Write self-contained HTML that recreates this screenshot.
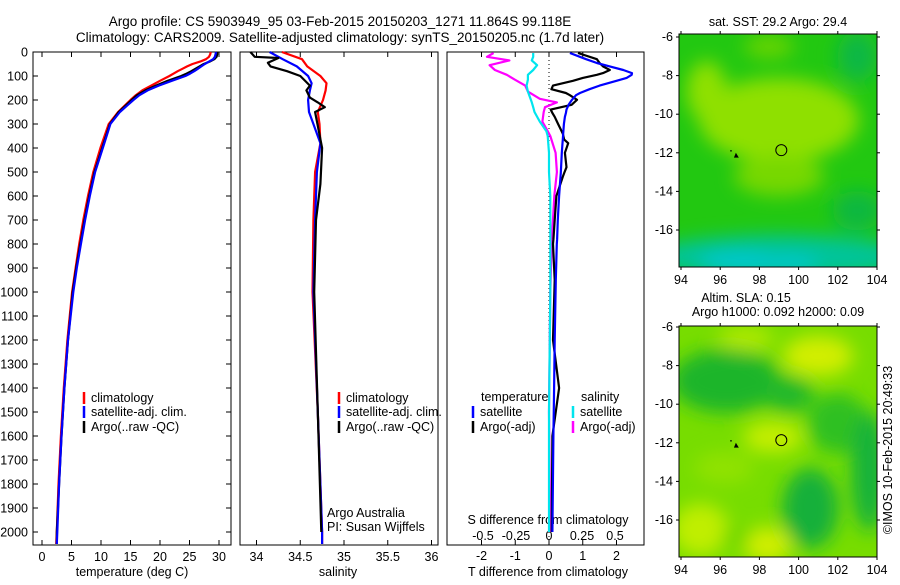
<!DOCTYPE html>
<html><head><meta charset="utf-8"><style>
body{margin:0;background:#fff;}
svg text{font-family:"Liberation Sans",sans-serif;fill:#000;}
</style></head><body>
<svg id="c" width="900" height="580" viewBox="0 0 900 580" xmlns="http://www.w3.org/2000/svg">
<defs>
<filter id="bl" filterUnits="userSpaceOnUse" x="600" y="0" width="300" height="580"><feGaussianBlur stdDeviation="9"/></filter>
<filter id="bl2" filterUnits="userSpaceOnUse" x="600" y="0" width="300" height="580"><feGaussianBlur stdDeviation="9"/></filter>
<clipPath id="m1"><rect x="679" y="34" width="198" height="233"/></clipPath>
<clipPath id="m2"><rect x="679" y="326" width="198" height="231"/></clipPath>
</defs>
<text x="340" y="26" text-anchor="middle" font-size="13.5">Argo profile: CS 5903949_95 03-Feb-2015 20150203_1271 11.864S 99.118E</text>
<text x="340" y="42" text-anchor="middle" font-size="13.5">Climatology: CARS2009. Satellite-adjusted climatology: synTS_20150205.nc (1.7d later)</text>
<g id="g"></g>
</svg>
<script>
// ---- data ----
const depthT=[0,10,20,30,40,50,60,70,80,90,100,120,140,160,180,200,250,300,400,500,600,700,800,900,1000,1200,1400,1600,1800,2000,2050];
const tempClim=[28.6,28.5,28.3,27.8,26.8,25.5,24.6,23.8,23.0,22.3,21.6,20.0,18.5,17.0,15.9,15.0,12.9,11.3,9.9,8.7,7.8,7.0,6.3,5.7,5.1,4.3,3.7,3.2,2.8,2.5,2.4];
const tempSat=[29.5,29.4,29.3,29.0,28.3,27.6,27.0,26.4,25.8,25.1,24.3,22.0,19.8,17.9,16.5,15.5,13.2,11.6,10.3,9.0,8.1,7.3,6.6,5.9,5.3,4.4,3.8,3.3,2.9,2.6,2.5];
const tempArgo=[29.7,29.7,29.6,29.2,28.4,27.4,26.7,26.0,25.3,24.5,23.6,21.3,19.3,17.5,16.1,15.2,13.0,11.5,10.2,8.9,8.0,7.2,6.5,5.8,5.2,4.4,3.8,3.3,2.9,2.5,2.5];
const depthS=[0,30,60,100,130,160,200,250,300,380,500,700,1000,1500,2000,2050];
const salClim=[34.29,34.52,34.58,34.73,34.80,34.79,34.76,34.70,34.72,34.73,34.67,34.65,34.64,34.70,34.75,34.75];
const salSat=[34.15,34.30,34.46,34.59,34.63,34.61,34.59,34.60,34.65,34.73,34.69,34.67,34.65,34.70,34.75,34.75];
const depthSA=[0,20,25,45,60,80,100,140,160,190,210,230,250,400,550,700,1000,1500,2000];
const salArgo=[33.93,33.98,34.25,34.13,34.16,34.35,34.50,34.61,34.57,34.61,34.70,34.78,34.67,34.75,34.73,34.68,34.66,34.70,34.74];
const depthD=[4,30,46,60,75,88,95,108,120,140,155,171,180,199,220,240,254,270,300,340,365,380,420,480,504,520,600,700,782,800,950,1200,1400,1600,2000];
const dTSat=[0.62,1.1,1.42,1.8,2.2,2.46,2.45,2.3,2.0,1.5,1.2,0.92,0.8,0.68,0.58,0.52,0.5,0.47,0.44,0.42,0.41,0.40,0.38,0.36,0.35,0.34,0.3,0.26,0.24,0.23,0.2,0.17,0.15,0.13,0.1];
const dTArgo=[0.86,1.42,1.5,1.6,1.8,1.6,1.42,1.0,0.71,0.12,0.07,0.5,0.62,0.83,0.67,0.05,0.1,0.17,0.27,0.41,0.45,0.57,0.47,0.52,0.45,0.41,0.22,0.17,0.13,0.12,0.17,0.12,0.3,0.1,0.08];
const depthSD=[4,20,35,55,75,95,115,140,165,195,210,230,250,290,330,350,420,500,600,800,1000,1500,2000];
const dSSat=[-0.12,-0.12,-0.13,-0.09,-0.12,-0.16,-0.16,-0.17,-0.16,-0.14,-0.13,-0.12,-0.11,-0.07,-0.02,-0.01,0,0,0.01,0.01,0.01,0.0,0.0];
const dSArgo=[-0.42,-0.47,-0.30,-0.45,-0.41,-0.32,-0.26,-0.18,-0.16,-0.07,0.06,-0.03,-0.04,-0.05,-0.01,0.01,0.05,0.06,0.04,0.02,0.01,0.0,0.01];
const depthTicks=[0,100,200,300,400,500,600,700,800,900,1000,1100,1200,1300,1400,1500,1600,1700,1800,1900,2000];
const tempTicks=[0,5,10,15,20,25,30];
const salTicks=[34,34.5,35,35.5,36];
const dTTicks=[-2,-1,0,1,2];
const dSTicks=[-0.5,-0.25,0,0.25,0.5];
const lonTicks=[94,96,98,100,102,104];
const latTicks=[-6,-8,-10,-12,-14,-16];
const profLon=99.118, profLat=-11.864;

// ---- scales ----
const Y0=52,YB=545;
const yD=d=>Y0+d*0.24;
const xT=t=>42+t*5.9;
const xS=s=>256.5+(s-34)*87.5;
const xDT=v=>549+v*33.75;
const xDS=v=>549+v*132;
const mx=l=>681+(l-94)*19.6;
const my1=a=>37+(-6-a)*19.3;
const my2=a=>327+(-6-a)*19.3;

const NS='http://www.w3.org/2000/svg';
const G=document.getElementById('g');
function mk(tag,at,txt,par){const e=document.createElementNS(NS,tag);for(const k in at)e.setAttribute(k,at[k]);if(txt!=null)e.textContent=txt;(par||G).appendChild(e);return e;}

// ---- maps (background fields) ----
function map1(){
  const g=mk('g',{'clip-path':'url(#m1)'});
  
  
  mk('rect',{x:679,y:34,width:198,height:233,fill:'#22c811'},null,g);
  const f=mk('g',{filter:'url(#bl)'},null,g);
  mk('ellipse',{cx:mx(99),cy:my1(-10.3),rx:80,ry:42,fill:'#8fe000'},null,f);
  mk('ellipse',{cx:mx(95.3),cy:my1(-8.8),rx:20,ry:30,fill:'#8fe000'},null,f);
  mk('ellipse',{cx:mx(99),cy:my1(-13.2),rx:45,ry:20,fill:'#77d800'},null,f);
  mk('ellipse',{cx:mx(98.5),cy:my1(-6.5),rx:25,ry:12,fill:'#66d400'},null,f);
  mk('ellipse',{cx:mx(99),cy:my1(-17.4),rx:130,ry:22,fill:'#00c49a'},null,f);
  mk('ellipse',{cx:mx(97),cy:my1(-17.7),rx:40,ry:10,fill:'#00c8d0'},null,f);
  mk('ellipse',{cx:mx(99.5),cy:my1(-17.8),rx:30,ry:8,fill:'#00c8d0'},null,f);
  mk('ellipse',{cx:mx(103),cy:my1(-7),rx:20,ry:25,fill:'#11b844'},null,f);
  mk('ellipse',{cx:mx(103),cy:my1(-15),rx:25,ry:20,fill:'#11b840'},null,f);
}
function map2(){
  const g=mk('g',{'clip-path':'url(#m2)'});
  
  
  mk('rect',{x:679,y:326,width:198,height:231,fill:'#77dd00'},null,g);
  const f=mk('g',{filter:'url(#bl2)'},null,g);
  mk('ellipse',{cx:mx(96.3),cy:my2(-8.8),rx:55,ry:32,fill:'#1db52a'},null,f);
  mk('ellipse',{cx:mx(99.5),cy:my2(-9.5),rx:25,ry:18,fill:'#22b82a'},null,f);
  mk('ellipse',{cx:mx(102),cy:my2(-11),rx:30,ry:30,fill:'#2ec024'},null,f);
  mk('ellipse',{cx:mx(100.6),cy:my2(-15.4),rx:28,ry:40,fill:'#14b03a'},null,f);
  mk('ellipse',{cx:mx(103.6),cy:my2(-13.5),rx:18,ry:60,fill:'#18b23a'},null,f);
  mk('ellipse',{cx:mx(98.7),cy:my2(-11.7),rx:30,ry:16,fill:'#c4ee00'},null,f);
  mk('ellipse',{cx:mx(101),cy:my2(-7.5),rx:35,ry:20,fill:'#d2ee00'},null,f);
  mk('ellipse',{cx:mx(97.3),cy:my2(-6.6),rx:28,ry:12,fill:'#b0ea00'},null,f);
  mk('ellipse',{cx:mx(95),cy:my2(-16.5),rx:28,ry:26,fill:'#c0ee00'},null,f);
  mk('ellipse',{cx:mx(98.4),cy:my2(-17.3),rx:24,ry:18,fill:'#d0ee00'},null,f);
  mk('ellipse',{cx:mx(96.2),cy:my2(-13.3),rx:30,ry:16,fill:'#90e200'},null,f);
  mk('ellipse',{cx:mx(96.8),cy:my2(-16.9),rx:14,ry:8,fill:'#5ed400'},null,f);
}
map1();map2();
function mapAxes(top,h,myf,name){
  const r=mk('rect',{x:679,y:top,width:198,height:h,fill:'none',stroke:'#000','stroke-width':1});
  
  
  lonTicks.forEach(l=>{
    mk('line',{x1:mx(l),x2:mx(l),y1:top,y2:top-3,stroke:'#000'});
    mk('line',{x1:mx(l),x2:mx(l),y1:top+h,y2:top+h+3,stroke:'#000'});
    const t=mk('text',{x:mx(l),y:top+h+17,'text-anchor':'middle','font-size':12.5},l);
    
    
  });
  latTicks.forEach(a=>{
    mk('line',{x1:679,x2:676,y1:myf(a),y2:myf(a),stroke:'#000'});
    mk('line',{x1:877,x2:880,y1:myf(a),y2:myf(a),stroke:'#000'});
    const t=mk('text',{x:673,y:myf(a)+4,'text-anchor':'end','font-size':12.5},a);
    
    
  });
  const c=mk('circle',{cx:mx(profLon),cy:myf(profLat),r:5.5,fill:'none',stroke:'#000','stroke-width':1});
  
  
  mk('line',{x1:mx(96.5),x2:mx(96.6),y1:myf(-11.9),y2:myf(-11.9),stroke:'#000'});
  mk('polygon',{points:`${mx(96.8)},${myf(-12)} ${mx(96.7)},${myf(-12.25)} ${mx(96.95)},${myf(-12.25)}`,fill:'#000'});
}
mapAxes(34,233,my1,'sst-map');
mapAxes(326,231,my2,'sla-map');
let t;
t=mk('text',{x:778,y:26,'text-anchor':'middle','font-size':12.5},'sat. SST: 29.2 Argo: 29.4');

t=mk('text',{x:746,y:302,'text-anchor':'middle','font-size':12.5},'Altim. SLA: 0.15');

t=mk('text',{x:778,y:316,'text-anchor':'middle','font-size':12.5},'Argo h1000: 0.092 h2000: 0.09');

t=mk('text',{x:0,y:0,'text-anchor':'middle','font-size':12.5,transform:'translate(892,450) rotate(-90)'},'©IMOS 10-Feb-2015 20:49:33');


// ---- profile panels ----
function frame(x0,x1,name){
  const r=mk('rect',{x:x0,y:Y0,width:x1-x0,height:YB-Y0,fill:'none',stroke:'#000','stroke-width':1});
  
  
}
frame(33,231,'temperature-panel');
frame(240,438,'salinity-panel');
frame(447,644,'difference-panel');
depthTicks.forEach(d=>{
  mk('line',{x1:33,x2:38,y1:yD(d),y2:yD(d),stroke:'#000'});
  mk('line',{x1:226,x2:231,y1:yD(d),y2:yD(d),stroke:'#000'});
  const l=mk('text',{x:28,y:yD(d)+4.5,'text-anchor':'end','font-size':12.5},d);
  
  
});
function xTicks(vals,f,y,name,top){
  vals.forEach(v=>{
    mk('line',{x1:f(v),x2:f(v),y1:YB,y2:YB-5,stroke:'#000'});
    if(top) mk('line',{x1:f(v),x2:f(v),y1:Y0,y2:Y0+5,stroke:'#000'});
    const l=mk('text',{x:f(v),y:y,'text-anchor':'middle','font-size':12.5},v);
    
    
  });
}
xTicks(tempTicks,xT,561,'temperature-tick-label',true);
xTicks(salTicks,xS,561,'salinity-tick-label',true);
xTicks(dTTicks,xDT,560,'t-diff-tick-label',true);
dSTicks.forEach(v=>{
  const l=mk('text',{x:xDS(v),y:540,'text-anchor':'middle','font-size':12.5},v);
  
  
});
t=mk('text',{x:132,y:576,'text-anchor':'middle','font-size':12.5},'temperature (deg C)');

t=mk('text',{x:338,y:576,'text-anchor':'middle','font-size':12.5},'salinity');

t=mk('text',{x:548,y:576,'text-anchor':'middle','font-size':12.5},'T difference from climatology');

t=mk('text',{x:548,y:524,'text-anchor':'middle','font-size':12.5},'S difference from climatology');

t=mk('text',{x:327,y:517,'font-size':12.5},'Argo Australia');

t=mk('text',{x:327,y:531,'font-size':12.5},'PI: Susan Wijffels');

// zero line
const z=mk('line',{x1:549,x2:549,y1:Y0,y2:YB,stroke:'#000','stroke-dasharray':'1,3'});


function series(ds,vals,fx,col,name,w){
  const pts=ds.map((d,i)=>fx(vals[i]).toFixed(1)+','+yD(d).toFixed(1)).join(' ');
  const p=mk('polyline',{points:pts,fill:'none',stroke:col,'stroke-width':w||2.2,'stroke-linejoin':'round'});
  
  
}
series(depthT,tempClim,xT,'#ff0000','temp-climatology-line');
series(depthT,tempArgo,xT,'#000000','temp-argo-line');
series(depthT,tempSat,xT,'#0000ff','temp-satellite-line');
series(depthS,salClim,xS,'#ff0000','sal-climatology-line');
series(depthS,salSat,xS,'#0000ff','sal-satellite-line');
series(depthSA,salArgo,xS,'#000000','sal-argo-line');
series(depthSD,dSArgo,xDS,'#ff00ff','s-diff-argo-line');
series(depthSD,dSSat,xDS,'#00e5ee','s-diff-satellite-line');
series(depthD,dTArgo,xDT,'#000000','t-diff-argo-line');
series(depthD,dTSat,xDT,'#0000ff','t-diff-satellite-line');

function legend(x,y,col,label,name){
  const l=mk('line',{x1:x,x2:x,y1:y-10,y2:y+2,stroke:col,'stroke-width':2.5});
  
  
  const tx=mk('text',{x:x+7,y:y,'font-size':12.5},label);
  
  
}
legend(84,402,'#ff0000','climatology','legend-temp-climatology');
legend(84,416,'#0000ff','satellite-adj. clim.','legend-temp-satellite');
legend(84,431,'#000000','Argo(..raw -QC)','legend-temp-argo');
legend(339,402,'#ff0000','climatology','legend-sal-climatology');
legend(339,416,'#0000ff','satellite-adj. clim.','legend-sal-satellite');
legend(339,431,'#000000','Argo(..raw -QC)','legend-sal-argo');
t=mk('text',{x:481,y:401,'font-size':12.5},'temperature');

t=mk('text',{x:581,y:401,'font-size':12.5},'salinity');

legend(473,416,'#0000ff','satellite','legend-tdiff-satellite');
legend(473,431,'#000000','Argo(-adj)','legend-tdiff-argo');
legend(573,416,'#00e5ee','satellite','legend-sdiff-satellite');
legend(573,431,'#ff00ff','Argo(-adj)','legend-sdiff-argo');
</script>
</body></html>
